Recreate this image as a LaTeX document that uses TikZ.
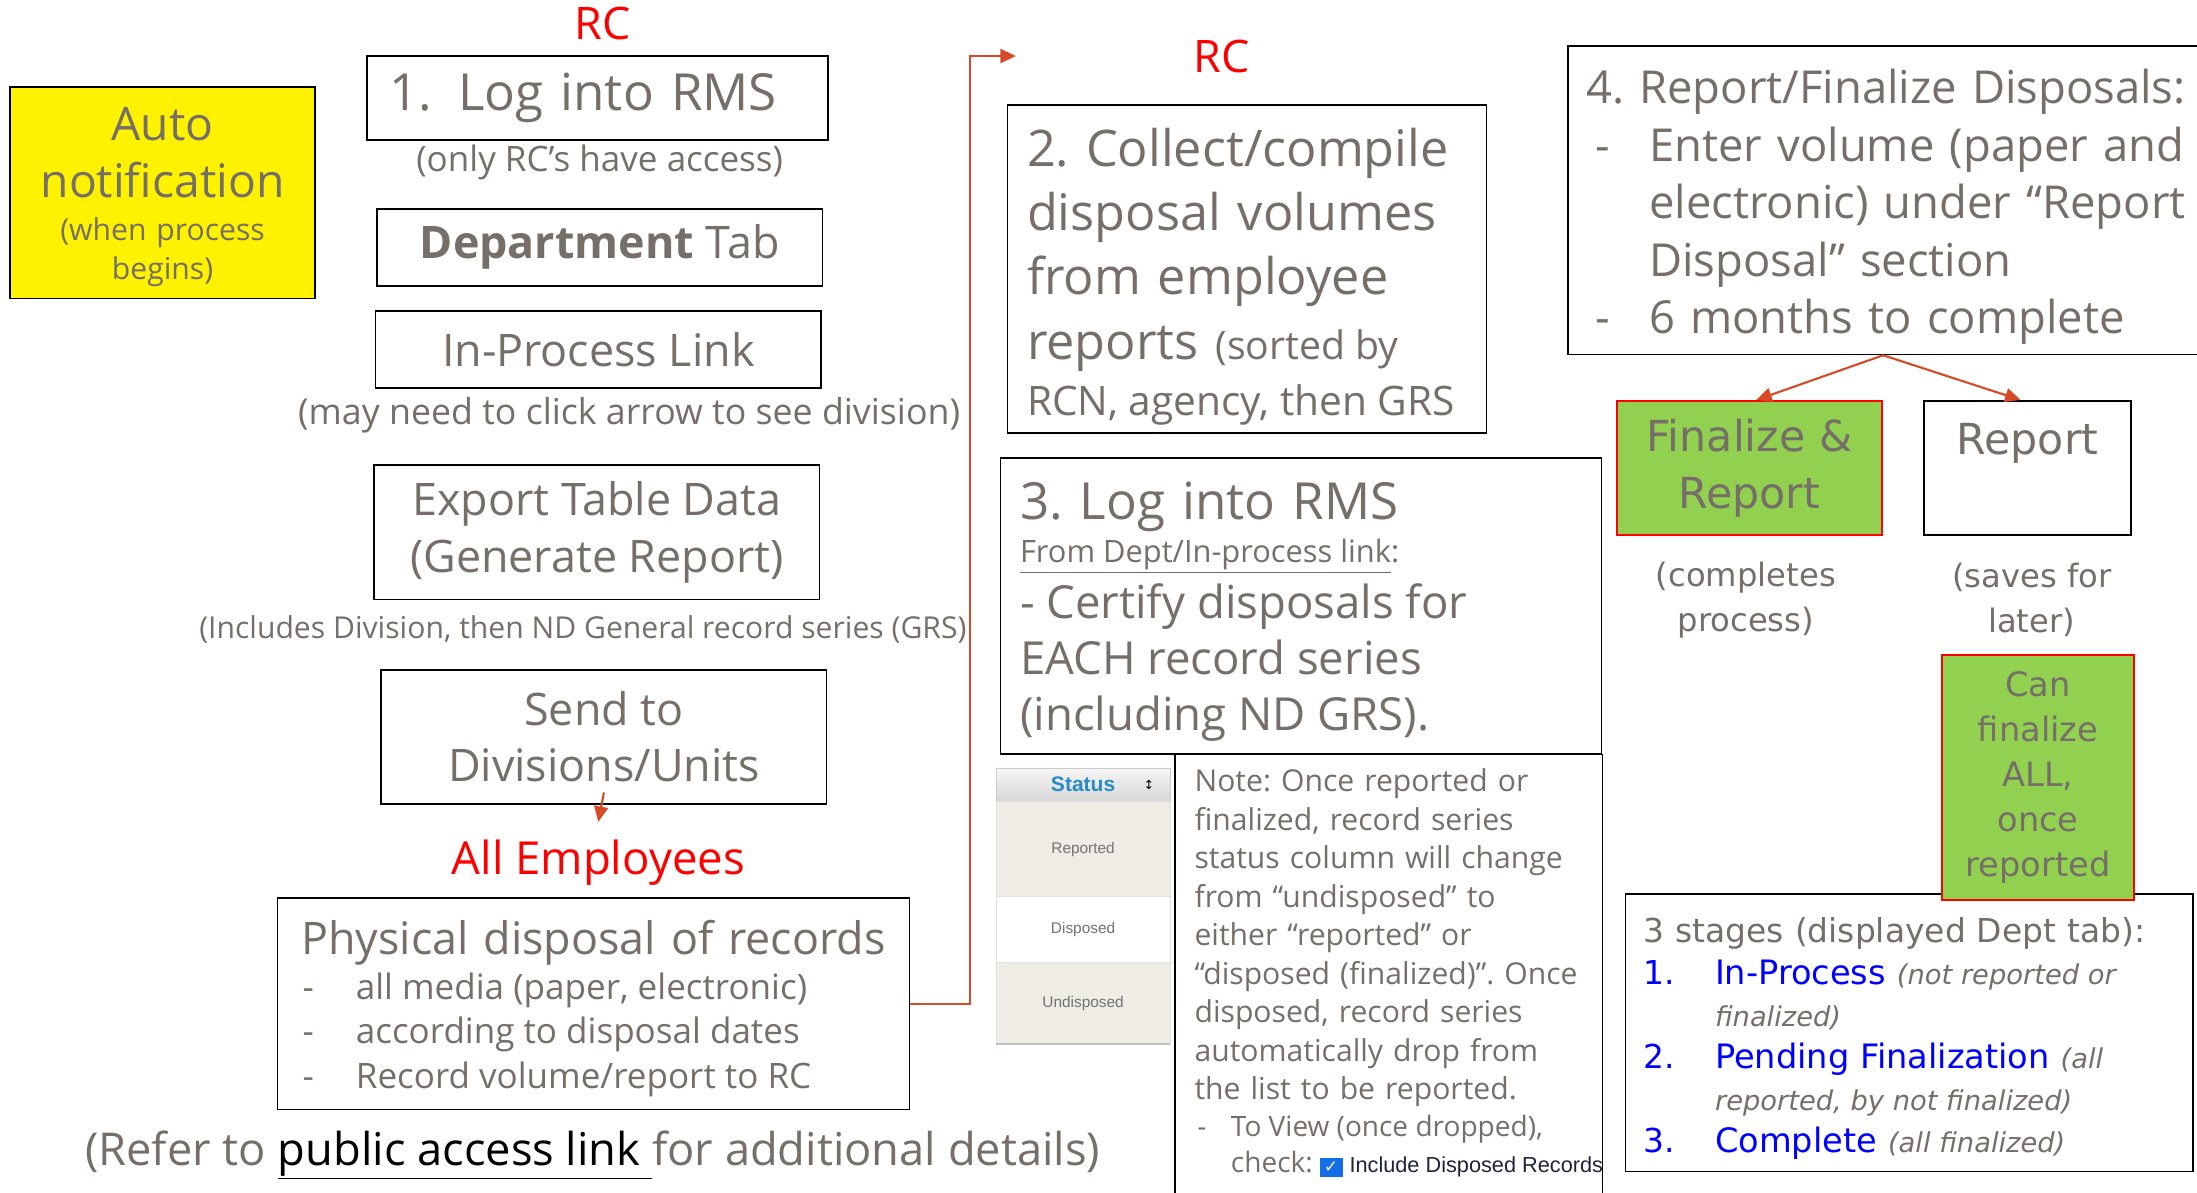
\documentclass[tikz,border=0pt]{standalone}
\usepackage{fontspec}
\setmainfont{Open Sans}
\newfontfamily\verd{DejaVu Sans}
\newfontfamily\arialf{Liberation Sans}
\usetikzlibrary{arrows.meta}
\definecolor{txt}{RGB}{118,110,104}
\definecolor{arr}{RGB}{214,74,40}
\definecolor{grn}{RGB}{146,208,80}
\definecolor{rctxt}{RGB}{255,0,0}
\definecolor{stg}{RGB}{0,0,255}
\definecolor{beige}{RGB}{238,236,229}
\definecolor{stblue}{RGB}{40,140,200}
\definecolor{chk}{RGB}{20,110,230}
\definecolor{inc}{RGB}{30,35,60}
% size + baseline, and word spaces that follow the size
\newcommand{\fs}[2]{\fontsize{#1pt}{#2pt}\selectfont
  \spaceskip=\fontdimen2\font plus\fontdimen3\font minus\fontdimen4\font\relax}

\begin{document}
\frenchspacing
\begin{tikzpicture}[x=1pt,y=-1pt,
  box/.style={draw,line width=1.1pt,inner sep=0pt,text=txt},
  gbox/.style={draw=rctxt,fill=grn,line width=1.1pt,inner sep=0pt,text=txt,align=center},
  lab/.style={text=txt,inner sep=0pt,align=center},
  who/.style={text=rctxt,inner sep=0pt},
  flow/.style={draw=arr,line width=1.5pt,-{Triangle[length=11pt,width=10pt]}},
  cell/.style={draw=black!12,inner sep=0pt,minimum width=124pt,text=black!55,font=\arialf\fs{11}{13}}]

  \useasboundingbox (0,0) rectangle (1568,851);

  % left column: what the RC does first
  \node[box,fill=yellow,minimum width=218pt,minimum height=151pt,text width=214pt,align=center,font=\fs{33}{41}] (auto) at (116,137.5)
    {\rule{0pt}{30pt}Auto\\notification\par\vspace*{2.5pt}\fs{21.5}{28}(when process\\begins)\par};
  \node[who,font=\fs{32}{38}] (rc1) at (430,17) {RC};
  \node[box,minimum height=60pt,text width=297pt,inner xsep=16pt,align=left,font=\fs{36.5}{44}] (login) at (426.5,70)
    {\makebox[49pt][l]{1.}Log into RMS};
  \node[lab,font=\fs{25}{30}] (access) at (428,116) {(only RC’s have access)};
  \node[box,minimum width=318pt,minimum height=55pt,font=\fs{32}{40}] (dept) at (428,176.5)
    {\textbf{Department} Tab};
  \node[box,minimum width=318pt,minimum height=55pt,font=\fs{32}{40}] (inproc) at (427,249.5)
    {In-Process Link};
  \node[lab,font=\fs{25.5}{30}] (arrowhint) at (449,296) {(may need to click arrow to see division)};
  \node[box,minimum width=318pt,minimum height=96pt,align=center,font=\fs{32}{41}] (export) at (426,380)
    {Export Table Data\\(Generate Report)};
  \node[lab,font=\fs{21.5}{26}] (includes) at (416,449) {(Includes Division, then ND General record series (GRS)};
  \node[box,minimum width=318pt,minimum height=96pt,align=center,font=\fs{32}{40}] (send) at (431,526)
    {Send to\\Divisions/Units};
  \node[who,font=\fs{32.5}{40}] (allemp) at (427,616) {All Employees};
  \node[box,minimum height=151pt,text width=415pt,inner xsep=18pt,align=left,font=\fs{32}{38}] (phys) at (423.5,716.5)
    {\rule{0pt}{31pt}\makebox[\linewidth][c]{Physical disposal of records}\par
     \fs{25}{32}\makebox[38pt][l]{-}all media (paper, electronic)\\
     \makebox[38pt][l]{-}according to disposal dates\\
     \makebox[38pt][l]{-}Record volume/report to RC\par};
  \node[lab,font=\fs{32.3}{40}] (refer) at (423,824)
    {(Refer to \textcolor{black}{\underline{public access link }}for additional details)};

  \draw[flow] ([yshift=9pt]send.south) -- ([yshift=13pt]allemp.north);
  \coordinate (rcin) at (725,40);
  \draw[flow] (phys.east) -- ++(43,0) |- (rcin);

  % middle column: compile and certify
  \node[who,font=\fs{32}{38}] (rc2) at (872,40) {RC};
  \node[box,minimum height=234pt,text width=314pt,inner xsep=14pt,align=left,font=\fs{36}{46}] (collect) at (890,192)
    {\rule{0pt}{38pt}2. Collect/compile\\disposal volumes\\from employee\\reports {\fs{28}{46}(sorted by}\par
     \fs{29}{40}RCN, agency, then GRS\par};
  \node[box,minimum height=211pt,text width=401pt,inner xsep=14pt,align=left,font=\fs{36.5}{40}] (certify) at (928.5,432.5)
    {\rule{0pt}{35pt}3. Log into RMS\par
     \fs{22}{31}\underline{From Dept/In-process link}:\par
     \fs{32.5}{40}- Certify disposals for\\EACH record series\\(including ND GRS).\par};

  % status column screenshot
  \node[cell,minimum height=24pt,top color=black!3,bottom color=black!16,draw=black!20,font=\arialf\bfseries\fs{15}{17},text=stblue] (sthead) at (773,560)
    {Status};
  \node[inner sep=0pt,font=\verd\fs{9}{9}] (stsort) at (820,560) {↕};
  \node[cell,minimum height=68pt,fill=beige] (strep) at (773,606) {Reported};
  \node[cell,minimum height=47pt,fill=white] (stdis) at (773,663.5) {Disposed};
  \node[cell,minimum height=58pt,fill=beige] (stund) at (773,716) {Undisposed};
  \draw[black!25,line width=1.5pt] (stund.south west) -- (stund.south east);

  \node[box,anchor=north west,text width=277pt,inner xsep=14pt,inner ysep=10pt,align=left,font=\fs{21.5}{27.5}] (note) at (838,538)
    {Note: Once reported or\\finalized, record series\\status column will change\\from “undisposed” to\\either “reported” or\\“disposed (finalized)”. Once\\disposed, record series\\automatically drop from\\the list to be reported.\par
     \fs{20}{26}\hspace*{2pt}\makebox[24pt][l]{-}To View (once dropped),\\
     \hspace*{26pt}\makebox[200pt][l]{check: \colorbox{chk}{\color{white}\verd\fs{12}{12}\bfseries ✓}\hspace{5pt}\textcolor{inc}{\arialf\fs{15.5}{18}Include Disposed Records}}\\[14pt]\mbox{}\par};

  % right column: report or finalize
  \node[box,minimum height=220pt,text width=454pt,inner xsep=13pt,align=left,font=\fs{32.4}{41}] (report4) at (1359,143)
    {\rule{0pt}{34pt}4. Report/Finalize Disposals:\\
     \hspace*{7pt}\makebox[38pt][l]{-}Enter volume (paper and\\
     \hspace*{45pt}electronic) under “Report\\
     \hspace*{45pt}Disposal” section\\
     \hspace*{7pt}\makebox[38pt][l]{-}6 months to complete\par};
  \node[gbox,minimum width=189pt,minimum height=96pt,font=\verd\fs{30.5}{41}] (finalize) at (1248.5,334)
    {Finalize \&\\Report};
  \node[box,minimum width=148pt,minimum height=96pt,align=center,font=\verd\fs{30.5}{41}] (savebox) at (1447,334)
    {Report\\\mbox{}};
  \draw[flow] ([xshift=-15pt]report4.south) -- ([xshift=5pt]finalize.north);
  \draw[flow] ([xshift=-15pt]report4.south) -- ([xshift=-5pt]savebox.north);
  \node[lab,font=\verd\fs{23}{32}] (completes) at (1246,428) {(completes\\process)};
  \node[lab,font=\verd\fs{23}{32}] (saves) at (1450,428) {(saves for\\later)};

  \node[box,minimum height=198pt,text width=379pt,inner xsep=13pt,align=left,font=\verd\fs{23.5}{30}] (stages) at (1362.5,737)
    {\rule{0pt}{26pt}3 stages (displayed Dept tab):\\
     \textcolor{stg}{\makebox[51pt][l]{1.}\fs{24}{30}In-Process} {\itshape\fs{19.5}{30}(not reported or}\\
     \hspace*{51pt}{\itshape\fs{19.5}{30}finalized)}\\
     \textcolor{stg}{\makebox[51pt][l]{2.}\fs{24}{30}Pending Finalization} {\itshape\fs{19.5}{30}(all}\\
     \hspace*{51pt}{\itshape\fs{19.5}{30}reported, by not finalized)}\\
     \textcolor{stg}{\makebox[51pt][l]{3.}\fs{24}{30}Complete} {\itshape\fs{19.5}{30}(all finalized)}\par};
  \node[gbox,minimum width=137pt,minimum height=175pt,font=\verd\fs{24}{32}] (canfin) at (1454.5,555)
    {Can\\finalize\\ALL,\\once\\reported};

\end{tikzpicture}
\end{document}
